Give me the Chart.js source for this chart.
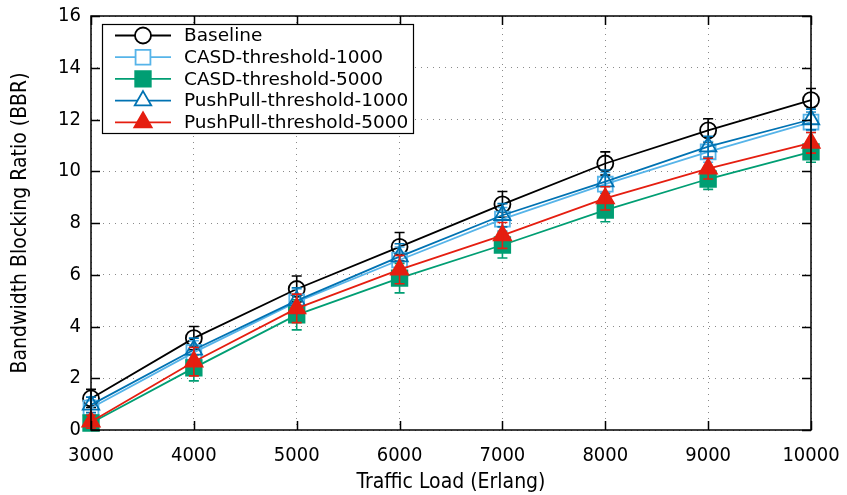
<!DOCTYPE html>
<html>
<head>
<meta charset="utf-8">
<script src="https://cdn.jsdelivr.net/npm/chart.js@4.4.1/dist/chart.umd.min.js"></script>
<style>
  html, body { margin: 0; padding: 0; background: #fff; }
  #wrap { width: 847px; height: 495px; position: relative; }
</style>
</head>
<body>
<div id="wrap"><canvas id="chart"></canvas></div>
<script>
const loads = [3000, 4000, 5000, 6000, 7000, 8000, 9000, 10000];

const baseline = [1.22, 3.55, 5.45, 7.08, 8.72, 10.3, 11.58, 12.75];
const casd1000 = [0.85, 3.0, 4.95, 6.57, 8.15, 9.5, 10.75, 11.9];
const casd5000 = [0.27, 2.4, 4.45, 5.87, 7.15, 8.5, 9.7, 10.75];
const pushPull1000 = [0.97, 3.1, 5.0, 6.7, 8.3, 9.6, 10.95, 12.0];
const pushPull5000 = [0.32, 2.64, 4.7, 6.2, 7.52, 8.95, 10.1, 11.1];

// half-widths of the confidence intervals
const baselineErr = [0.35, 0.45, 0.5, 0.55, 0.5, 0.45, 0.45, 0.45];
const casd1000Err = [0.3, 0.45, 0.5, 0.5, 0.45, 0.45, 0.4, 0.4];
const casd5000Err = [0.25, 0.5, 0.58, 0.57, 0.5, 0.45, 0.4, 0.4];
const pushPull1000Err = [0.3, 0.45, 0.5, 0.5, 0.45, 0.45, 0.4, 0.4];
const pushPull5000Err = [0.25, 0.55, 0.55, 0.55, 0.5, 0.45, 0.4, 0.4];

const yTicks = [0, 2, 4, 6, 8, 10, 12, 14, 16];
const xTicks = loads;

const axisFamily = "'DejaVu Sans Condensed', 'DejaVu Sans', sans-serif";
const tickFont = { family: axisFamily, size: 20 };
const titleFont = { family: axisFamily, size: 21 };
const legendFont = "18.5px 'DejaVu Sans', sans-serif";

function series(label, values, errs, color, style, radius, filled, order) {
  return {
    label,
    data: loads.map((x, i) => ({ x, y: values[i] })),
    errors: errs,
    borderColor: color,
    backgroundColor: filled ? color : '#fff',
    pointStyle: style,
    pointRadius: radius,
    pointHoverRadius: radius,
    pointBorderWidth: 1.8,
    pointBackgroundColor: filled ? color : 'rgba(255,255,255,0)',
    pointBorderColor: color,
    borderWidth: 1.8,
    tension: 0,
    fill: false,
    clip: false,
    order,
  };
}

const datasets = [
  series('Baseline', baseline, baselineErr, '#000000', 'circle', 8, false, 5),
  series('CASD-threshold-1000', casd1000, casd1000Err, '#56b4e9', 'rect', 10.5, false, 4),
  series('CASD-threshold-5000', casd5000, casd5000Err, '#009e73', 'rect', 11, true, 3),
  series('PushPull-threshold-1000', pushPull1000, pushPull1000Err, '#0072b2', 'triangle', 9.5, false, 2),
  series('PushPull-threshold-5000', pushPull5000, pushPull5000Err, '#e51e10', 'triangle', 10, true, 1),
];

// vertical error bars with caps, drawn right after each dataset
const errorBars = {
  id: 'errorBars',
  afterDatasetDraw(chart, args) {
    const ds = chart.data.datasets[args.index];
    const { x: xs, y: ys } = chart.scales;
    const ctx = chart.ctx;
    ctx.save();
    ctx.strokeStyle = ds.borderColor;
    ctx.lineWidth = 1.6;
    ds.data.forEach((p, i) => {
      const e = ds.errors[i];
      const px = xs.getPixelForValue(p.x);
      const top = ys.getPixelForValue(p.y + e);
      const bot = ys.getPixelForValue(p.y - e);
      ctx.beginPath();
      ctx.moveTo(px, top); ctx.lineTo(px, bot);
      ctx.moveTo(px - 5, top); ctx.lineTo(px + 5, top);
      ctx.moveTo(px - 5, bot); ctx.lineTo(px + 5, bot);
      ctx.stroke();
    });
    ctx.restore();
  },
};

// closed frame with inward ticks on all four sides
const frame = {
  id: 'frame',
  afterDatasetsDraw(chart) {
    const { ctx, chartArea: a } = chart;
    const { x: xs, y: ys } = chart.scales;
    const len = 9;
    ctx.save();
    ctx.strokeStyle = '#000';
    ctx.lineWidth = 1.5;
    ctx.strokeRect(a.left, a.top, a.right - a.left, a.bottom - a.top);
    ctx.beginPath();
    xTicks.forEach((v) => {
      const px = Math.round(xs.getPixelForValue(v)) + 0.5;
      ctx.moveTo(px, a.bottom); ctx.lineTo(px, a.bottom - len);
      ctx.moveTo(px, a.top); ctx.lineTo(px, a.top + len);
    });
    yTicks.forEach((v) => {
      const py = Math.round(ys.getPixelForValue(v)) + 0.5;
      ctx.moveTo(a.left, py); ctx.lineTo(a.left + len, py);
      ctx.moveTo(a.right, py); ctx.lineTo(a.right - len, py);
    });
    ctx.stroke();
    ctx.restore();
  },
};

// boxed key in the upper left corner: line sample, marker, label
const keyBox = {
  id: 'keyBox',
  afterDraw(chart) {
    const ctx = chart.ctx;
    const box = { x: 102.5, y: 24.5, w: 311, h: 109 };
    const rowH = 21.7;
    ctx.save();
    ctx.fillStyle = '#fff';
    ctx.fillRect(box.x, box.y, box.w, box.h);
    ctx.strokeStyle = '#000';
    ctx.lineWidth = 1.2;
    ctx.strokeRect(box.x, box.y, box.w, box.h);
    ctx.font = legendFont;
    ctx.textBaseline = 'middle';
    chart.data.datasets.forEach((ds, i) => {
      const cy = box.y + 11 + i * rowH;
      ctx.strokeStyle = ds.borderColor;
      ctx.lineWidth = ds.borderWidth;
      ctx.beginPath();
      ctx.moveTo(115, cy); ctx.lineTo(171, cy);
      ctx.stroke();
      ctx.fillStyle = ds.pointBackgroundColor === 'rgba(255,255,255,0)' ? '#fff' : ds.pointBackgroundColor;
      ctx.lineWidth = ds.pointBorderWidth;
      Chart.helpers.drawPoint(ctx, {
        pointStyle: ds.pointStyle,
        radius: ds.pointRadius,
        rotation: 0,
        borderWidth: ds.pointBorderWidth,
      }, 143, cy);
      ctx.fillStyle = '#000';
      ctx.fillText(ds.label, 184, cy + 1);
    });
    ctx.restore();
  },
};

// drop the label overflow padding so the layout padding alone places the plot box
function noOverflow(s) {
  s.paddingLeft = 0;
  s.paddingRight = 0;
  s.paddingTop = 0;
  s.paddingBottom = 0;
}

new Chart(document.getElementById('chart'), {
  type: 'line',
  data: { datasets },
  plugins: [errorBars, frame, keyBox],
  options: {
    responsive: true,
    maintainAspectRatio: false,
    animation: false,
    events: [],
    layout: { padding: { top: 16, right: 36, left: 0, bottom: 0 } },
    plugins: { legend: { display: false }, tooltip: { enabled: false } },
    scales: {
      x: {
        type: 'linear',
        min: 3000,
        max: 10000,
        afterFit: (s) => { s.height = 65; noOverflow(s); },
        afterBuildTicks: (s) => { s.ticks = xTicks.map((v) => ({ value: v })); },
        border: { display: false, dash: [1, 5] },
        grid: { color: '#8a8a8a', lineWidth: 1, drawTicks: false },
        ticks: { color: '#000', font: tickFont, padding: 14, maxRotation: 0, callback: (v) => String(v) },
        title: { display: true, text: 'Traffic Load (Erlang)', color: '#000', font: titleFont, padding: { top: 0, bottom: 0 } },
      },
      y: {
        min: 0,
        max: 16,
        afterFit: (s) => { s.width = 91; noOverflow(s); },
        afterBuildTicks: (s) => { s.ticks = yTicks.map((v) => ({ value: v })); },
        border: { display: false, dash: [1, 5] },
        grid: { color: '#8a8a8a', lineWidth: 1, drawTicks: false },
        ticks: { color: '#000', font: tickFont, padding: 10, callback: (v) => String(v) },
        title: { display: true, text: 'Bandwidth Blocking Ratio (BBR)', color: '#000', font: titleFont, padding: { top: 8, bottom: 0 } },
      },
    },
  },
});
</script>
</body>
</html>
